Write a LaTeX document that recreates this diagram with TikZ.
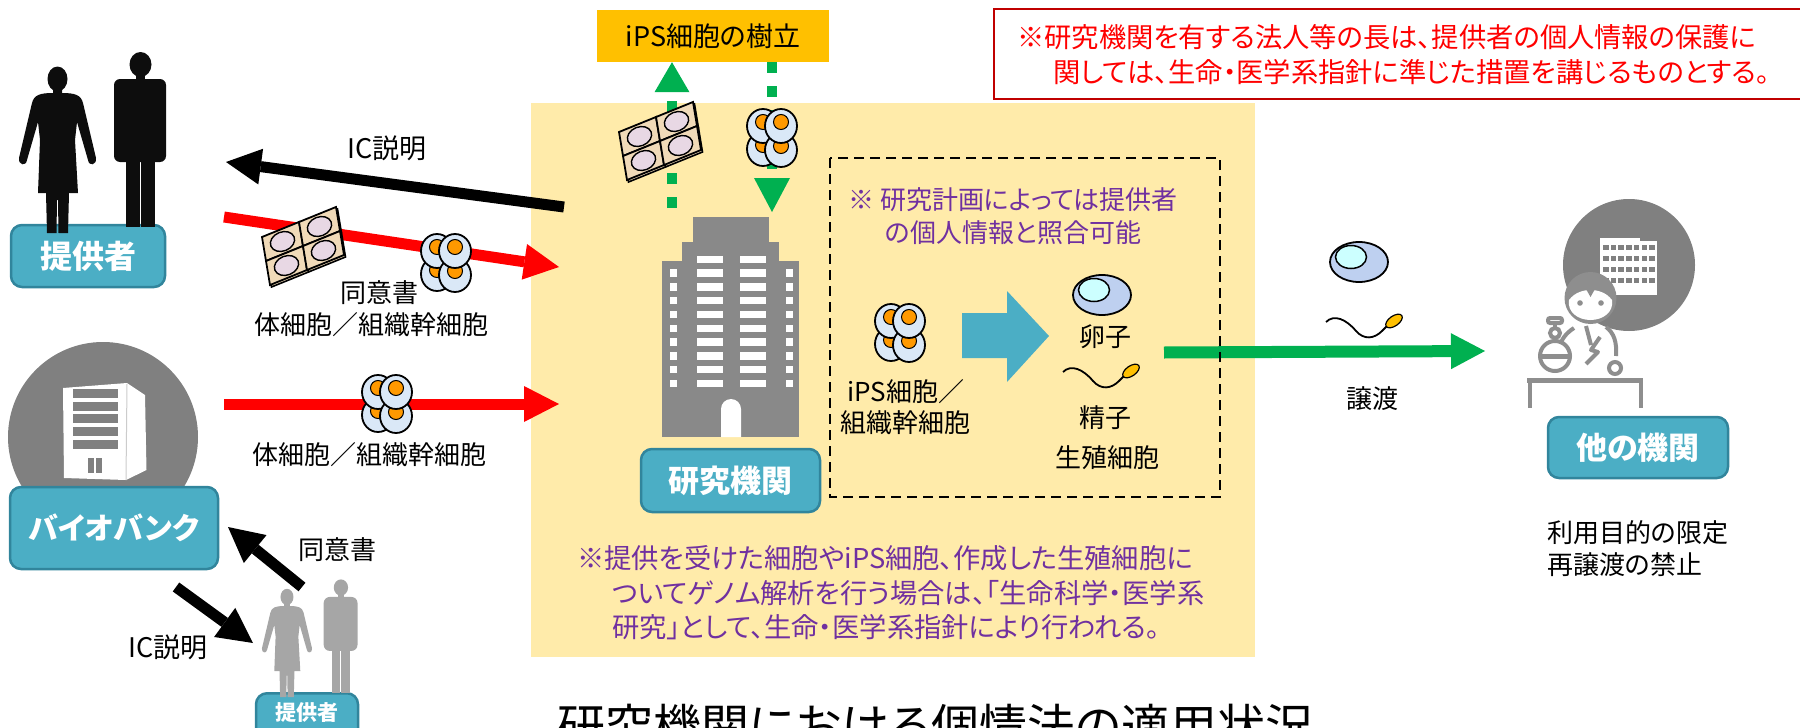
\documentclass[tikz,border=0pt]{standalone}
\usepackage{fontspec}
\setmainfont{Noto Sans CJK JP}[RawFeature=+palt]
\usetikzlibrary{arrows.meta}
\definecolor{tealfill}{RGB}{75,174,197}
\definecolor{tealedge}{RGB}{49,133,156}
\definecolor{labyellow}{RGB}{255,235,170}
\definecolor{ipsorange}{RGB}{255,192,0}
\definecolor{boxred}{RGB}{192,0,0}
\definecolor{okgreen}{RGB}{0,176,80}
\definecolor{notepurple}{RGB}{112,48,160}
\definecolor{towergray}{RGB}{137,137,137}
\definecolor{discgray}{RGB}{128,128,128}
\definecolor{scigray}{RGB}{142,142,142}
\definecolor{crowdgray}{RGB}{166,166,166}
\definecolor{cellblue}{RGB}{218,232,247}
\definecolor{nucleus}{RGB}{255,153,0}
\definecolor{dishtan}{RGB}{240,218,184}
\definecolor{dishpink}{RGB}{232,216,228}
\definecolor{eggblue}{RGB}{190,208,240}
\definecolor{eggcore}{RGB}{204,255,255}
\definecolor{headgold}{RGB}{255,192,0}
\tikzset{
 lbl/.style={inner sep=0,font=\fontsize{26}{30}\selectfont},
 tealbox/.style={draw=tealedge,line width=2.5,fill=tealfill,rounded corners=11,text=white,inner sep=0,font=\bfseries\fontsize{31}{36}\selectfont},
 fat/.style={line width=11,-{Triangle[length=35pt,width=36pt,line width=0pt]}},
 sci/.style={line width=4,draw=scigray},
 cells/.pic={
  \foreach \cx/\cy in {-9/12,-9/-11,9/13,9/-11}{
   \draw[line width=1.8,fill=cellblue](\cx,\cy)ellipse(16 and 17);
   \draw[line width=1,fill=nucleus](\cx,\cy-4)circle(7.5);
  }
 },
 dish/.pic={
  \foreach \i in {0,1}\foreach \j in {0,1}{
   \begin{scope}[shift={(-41+37*\i+4*\j,-9-15*\i+24*\j)}]
    \draw[line width=1.6,fill=dishtan](1.5,2)--(38.5,-13)--(42.5,11)--(5.5,26)--cycle;
    \draw[line width=1.8,fill=dishtan](0,0)--(37,-15)--(41,9)--(4,24)--cycle;
    \draw[line width=1.4,fill=dishpink,rotate around={22:(20.5,4.5)}](20.5,4.5)ellipse(12.5 and 9.5);
   \end{scope}
  }
 },
 egg/.pic={
  \draw[line width=1.8,fill=eggblue](0,0)ellipse(29 and 20);
  \draw[line width=1.5,fill=eggcore](-8,-5)ellipse(15.5 and 11.5);
 },
 sperm/.pic={
  \draw[line width=1.8](0,0)..controls(8,-8)and(20,-3)..(30,9)..controls(38,18)and(48,17)..(56,9)--(61,4);
  \draw[line width=1.2,fill=headgold,rotate around={35:(68,-1)}](68,-1)ellipse(9.5 and 5);
 },
 couple/.pic={
  \fill(57.5,79)ellipse(10 and 12.5);
  \fill(53,88)--(53,93)..controls(40,93)and(34,95)..(32,103)--(19,158)..controls(18,165)and(26,167)..(27,160)--(38,122)--(40,140)--(38,193)--(46,193)--(47,233)--(56.5,233)--(57,200)--(58,200)--(58.5,233)--(68,233)--(69,193)--(78,193)--(75,140)--(77,122)--(88,160)..controls(89,167)and(97,165)..(96,158)--(83,103)..controls(81,95)and(75,93)..(62,93)--(62,88)--cycle;
  \fill(140.5,64.5)ellipse(11 and 12.5);
  \fill(136,75)rectangle(145,82);
  \fill[rounded corners=6](114,79)rectangle(166,162);
  \fill(126,158)rectangle(139.5,227);
  \fill(141,158)rectangle(155,227);
 }
}
\begin{document}
\begin{tikzpicture}[x=1pt,y=-1pt]
\useasboundingbox(0,0)rectangle(1800,728);
\clip(0,0)rectangle(1800,728);
\fill[labyellow](531,103)rectangle(1255,657);

\draw[boxred,line width=2.5,fill=white](994,9)rectangle(1806,99);
\node[lbl,anchor=west,text=red,font=\fontsize{27.3}{30}\selectfont](ruleA)at(1017,37){※研究機関を有する法人等の長は、提供者の個人情報の保護に};
\node[lbl,anchor=west,text=red,font=\fontsize{27.3}{30}\selectfont](ruleB)at(1053,72){関しては、生命・医学系指針に準じた措置を講じるものとする。};

\node[lbl,fill=ipsorange,minimum width=232,minimum height=52,font=\fontsize{27}{30}\selectfont](ipsbox)at(713,36){iPS細胞の樹立};
\coordinate(upFoot)at(672,208);\coordinate(downTip)at(772,212);
\draw[okgreen,line width=10,dash pattern=on 11pt off 13pt,-{Triangle[length=30pt,width=35pt,line width=0pt]}](upFoot)--(upFoot|-ipsbox.south);
\draw[okgreen,line width=10,dash pattern=on 11pt off 13pt,-{Triangle[length=34pt,width=36pt,line width=0pt]}](downTip|-ipsbox.south)--(downTip);
\pic at(660,141){dish};
\pic at(772,137){cells};

\fill[towergray](693,217)rectangle(769,243);
\fill[towergray](682,242)rectangle(779,262);
\fill[towergray](662,261)rectangle(799,437);
\foreach \k in {0,...,9}{\fill[white](697,255.5+13.8*\k)rectangle++(26,7.5);\fill[white](740,255.5+13.8*\k)rectangle++(26,7.5);}
\foreach \k in {1,...,9}{\fill[white](670,255.5+13.8*\k)rectangle++(6.5,7.5);\fill[white](786,255.5+13.8*\k)rectangle++(6.5,7.5);}
\fill[white](721,437)--(721,409)arc(180:360:10)--(741,437)--cycle;
\node[tealbox,minimum width=179,minimum height=63](lab)at(730.5,480.5){研究機関};

\pic at(900,332){cells};
\node[lbl,anchor=west](ipsA)at(847,392){iPS細胞／};
\node[lbl,anchor=west](ipsB)at(840,423){組織幹細胞};
\fill[tealfill](962,313)--(1007,313)--(1007,291)--(1049,336)--(1007,382)--(1007,358)--(962,358)--cycle;
\pic at(1102,295){egg};
\node[lbl](ovum)at(1105,337){卵子};
\pic at(1063,372){sperm};
\node[lbl](spermLbl)at(1105,418){精子};
\node[lbl](germ)at(1107,458){生殖細胞};
\node[lbl,anchor=west,text=notepurple](planA)at(848,200){※ 研究計画によっては提供者};
\node[lbl,anchor=west,text=notepurple](planB)at(885,233){の個人情報と照合可能};

\coordinate(giveFrom)at(1164,352.5);\coordinate(giveTo)at(1485,351);
\draw[okgreen,line width=12,-{Triangle[length=34pt,width=36pt,line width=0pt]}](giveFrom)--(giveTo);
\draw[line width=2.5,dash pattern=on 10pt off 6pt](830,158)rectangle(1220,497);
\pic at(1359,262){egg};
\pic at(1326,322){sperm};
\node[lbl](transfer)at(1372,399){譲渡};

\fill[discgray](1629,265)circle(66);
\fill[white](1600,238)rectangle(1640,295);
\fill[white](1640,241)rectangle(1657,295);
\foreach \r in {0,...,3}\foreach \c in {0,...,6}\fill[discgray](1603+7.7*\c,245+11*\r)rectangle++(5.5,4.5);
\fill[white](1558,350)--(1572,330)--(1608,330)--(1617,352)--(1617,379)--(1558,379)--cycle;
\fill[scigray](1590.5,298)circle(26);
\fill[white](1569,300)..controls(1575,292)and(1584,290)..(1590.5,290)..controls(1597,290)and(1606,292)..(1612,300)..controls(1614,312)and(1603,320)..(1590.5,320)..controls(1578,320)and(1567,312)..(1569,300)--cycle;
\fill[scigray](1586,289)--(1595,289)--(1590.5,297)--cycle;
\fill[scigray](1580,303)circle(2.8);\fill[scigray](1601,303)circle(2.8);
\draw[sci](1574,328)..controls(1566,333)and(1561,340)..(1560,346);
\draw[sci](1606,327)..controls(1614,333)and(1617,342)..(1616,356);
\draw[sci,line join=round](1586,326)--(1591,345)(1600,337)--(1591,350)--(1598,352)--(1586,364);
\draw[sci,fill=white](1555,356)circle(15);
\draw[scigray,line width=5](1540,356)--(1570,356);
\draw[sci](1555,341)--(1555,325);
\draw[sci,fill=white](1555,333)circle(5);
\draw[sci,rounded corners=2](1548,318)rectangle(1562,323);
\draw[sci,fill=white](1615,368)circle(6);
\draw[scigray,line width=5](1527,380)--(1643,380);
\draw[sci](1530,380)--(1530,408)(1640.5,380)--(1640.5,408);
\node[tealbox,minimum width=180,minimum height=61](other)at(1638,447.5){他の機関};
\node[lbl,anchor=west](limitA)at(1547,533){利用目的の限定};
\node[lbl,anchor=west](limitB)at(1547,565){再譲渡の禁止};

\node[tealbox,minimum width=154,minimum height=62,font=\bfseries\fontsize{32}{36}\selectfont](donor)at(88,256){提供者};
\pic[color=black!95]at(0,0){couple};
\coordinate(icFrom)at(564,207);\coordinate(icTo)at(226,162);
\draw[fat](icFrom)--(icTo);
\node[lbl,font=\fontsize{27}{30}\selectfont](icTop)at(387,148){IC説明};
\coordinate(redFrom)at(224,217);\coordinate(redTo)at(559,267);
\draw[fat,red](redFrom)--(redTo);
\pic at(303,246){dish};
\pic at(446,262){cells};
\node[lbl](consentTop)at(379,293){同意書};
\node[lbl](somaTop)at(371,325){体細胞／組織幹細胞};

\fill[discgray](103,437)circle(95);
\fill[white](63,388)--(127,383)--(145,395)--(146.5,470)--(126,480)--(64,478)--cycle;
\draw[gray!40,line width=1](127,384)--(126,480);
\foreach \k in {0,...,4}\fill[discgray](73,389+12.7*\k)rectangle++(45,9);
\fill[discgray](88,458)rectangle(102,473);
\draw[white,line width=1.5](95,458)--(95,473);
\node[tealbox,minimum width=208,minimum height=82,font=\bfseries\fontsize{30}{36}\selectfont](bank)at(114,528){バイオバンク};
\coordinate(bankFrom)at(224,404);\coordinate(bankTo)at(559,404);
\draw[fat,red](bankFrom)--(bankTo);
\pic at(387,403){cells};
\node[lbl](somaLow)at(369,455){体細胞／組織幹細胞};

\node[tealbox,anchor=north,minimum width=102,inner ysep=4,text height=23,text depth=22,font=\bfseries\fontsize{21}{24}\selectfont](donorSmall)at(307,692){提供者};
\pic[color=crowdgray,scale=.65]at(249.6,545.6){couple};
\coordinate(consentFrom)at(302,587);\coordinate(consentTo)at(228,527);
\draw[fat](consentFrom)--(consentTo);
\node[lbl](consentLow)at(337,550){同意書};
\coordinate(icFrom2)at(176,587);\coordinate(icTo2)at(253,643);
\draw[fat](icFrom2)--(icTo2);
\node[lbl,font=\fontsize{27}{30}\selectfont](icLow)at(168,647){IC説明};

\node[lbl,anchor=west,text=notepurple,font=\fontsize{27.3}{30}\selectfont](noteA)at(577,558){※提供を受けた細胞やiPS細胞、作成した生殖細胞に};
\node[lbl,anchor=west,text=notepurple,font=\fontsize{27.3}{30}\selectfont](noteB)at(612,593){ついてゲノム解析を行う場合は、「生命科学・医学系};
\node[lbl,anchor=west,text=notepurple,font=\fontsize{27.3}{30}\selectfont](noteC)at(612,627){研究」として、生命・医学系指針により行われる。};
\node[lbl,anchor=base west,font=\fontsize{48}{52}\selectfont](title)at(557,744){研究機関における個情法の適用状況};
\end{tikzpicture}
\end{document}
